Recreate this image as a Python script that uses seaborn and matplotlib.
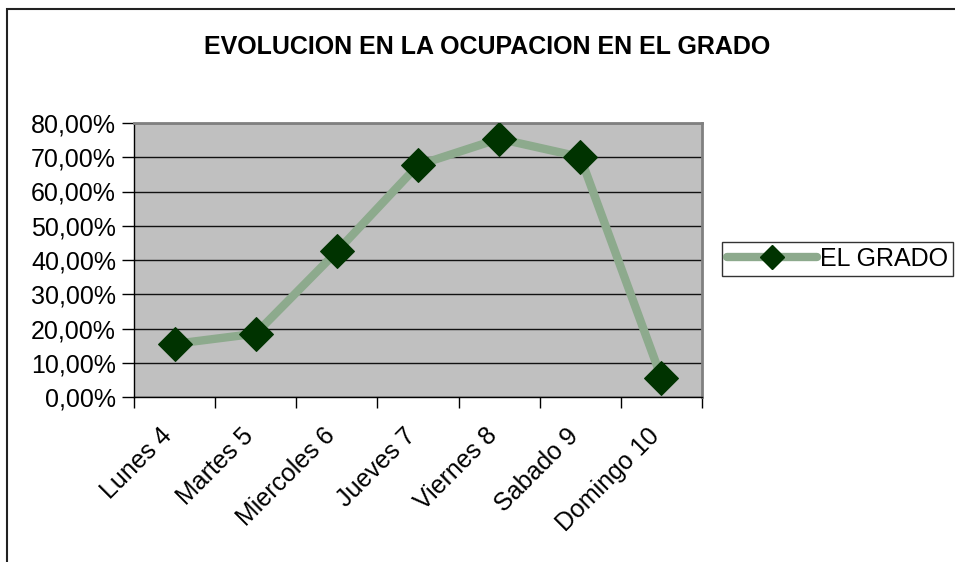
import numpy as np
import pandas as pd
import seaborn as sns
import matplotlib.pyplot as plt
from matplotlib.lines import Line2D
from matplotlib.patches import Rectangle
from matplotlib.ticker import FuncFormatter, FixedLocator
from matplotlib.transforms import ScaledTranslation

# Data
dias = ["Lunes 4", "Martes 5", "Miercoles 6", "Jueves 7", "Viernes 8", "Sabado 9", "Domingo 10"]
ocupacion = [0.155, 0.185, 0.425, 0.677, 0.754, 0.701, 0.056]
y_ticks = [0.0, 0.1, 0.2, 0.3, 0.4, 0.5, 0.6, 0.7, 0.8]

sns.set_style("white")
plt.rcParams['font.family'] = ['Liberation Sans', 'DejaVu Sans']
plt.rcParams['text.color'] = 'black'
plt.rcParams['xtick.color'] = 'black'
plt.rcParams['ytick.color'] = 'black'

line_col = "#8DAA8D"
mark_col = "#003300"
fs = 18

fig = plt.figure(figsize=(9.55, 5.62), dpi=100)
ax = fig.add_axes([134 / 955, 1 - 397 / 562, (702 - 134) / 955, (397 - 123) / 562])

df = pd.DataFrame({"dia": range(len(dias)), "ocupacion": ocupacion})
sns.lineplot(data=df, x="dia", y="ocupacion", ax=ax, color=line_col, linewidth=6,
             marker="D", markersize=17, markerfacecolor=mark_col, markeredgecolor=mark_col,
             zorder=3)

ax.set_facecolor("#C0C0C0")
ax.set_xlim(-0.5, len(dias) - 0.5)
ax.set_ylim(0, 0.8)
ax.set_xlabel("")
ax.set_ylabel("")

ax.set_yticks(y_ticks)
ax.yaxis.set_major_formatter(FuncFormatter(lambda v, p: f"{v * 100:.2f}%".replace(".", ",")))
ax.grid(axis="y", color="#111111", linewidth=1, zorder=1)
ax.set_axisbelow(True)

# category labels: rotated, ending a little left of each category centre (Excel style)
ax.set_xticks(range(len(dias)))
ax.set_xticklabels([])
lbl_tr = ax.get_xaxis_transform() + ScaledTranslation(-6 / 100, -35 / 100, fig.dpi_scale_trans)
for i, d in enumerate(dias):
    ax.text(i, 0, d, transform=lbl_tr, rotation=45, ha="right", va="center",
            rotation_mode="anchor", fontsize=fs)

ax.xaxis.set_minor_locator(FixedLocator(np.arange(-0.5, len(dias), 1.0)))
ax.tick_params(axis="x", which="major", length=0)
ax.tick_params(axis="x", which="minor", length=8, width=1, direction="out", color="black")
ax.tick_params(axis="y", length=9, width=1, direction="out", color="black", labelsize=fs, pad=4)
ax.tick_params(axis="both", left=True, bottom=True, which="both")

for s in ["left", "bottom"]:
    ax.spines[s].set_color("black")
    ax.spines[s].set_linewidth(1)
for s in ["top", "right"]:
    ax.spines[s].set_color("#808080")
    ax.spines[s].set_linewidth(2)

fig.text(487 / 955, 1 - 47 / 562, "EVOLUCION EN LA OCUPACION EN EL GRADO",
         ha="center", va="center", fontsize=fs, fontweight="bold")

handle = Line2D([], [], color=line_col, linewidth=6, marker="D", markersize=12,
                markerfacecolor=mark_col, markeredgecolor=mark_col)
leg = fig.legend([handle], ["EL GRADO"], loc="center left",
                 bbox_to_anchor=(722 / 955, 1 - 259 / 562), fontsize=fs,
                 handlelength=3.6, handletextpad=0.1, borderpad=0.2,
                 frameon=True, fancybox=False, edgecolor="black", borderaxespad=0)
leg.get_frame().set_linewidth(1)

# outer chart border (left, top, right)
fig.add_artist(Rectangle((7 / 955, -0.05), 2, 1.05 - 9 / 562, transform=fig.transFigure,
                         fill=False, edgecolor="#222222", linewidth=1.5))

fig.savefig("out.png", dpi=100)
